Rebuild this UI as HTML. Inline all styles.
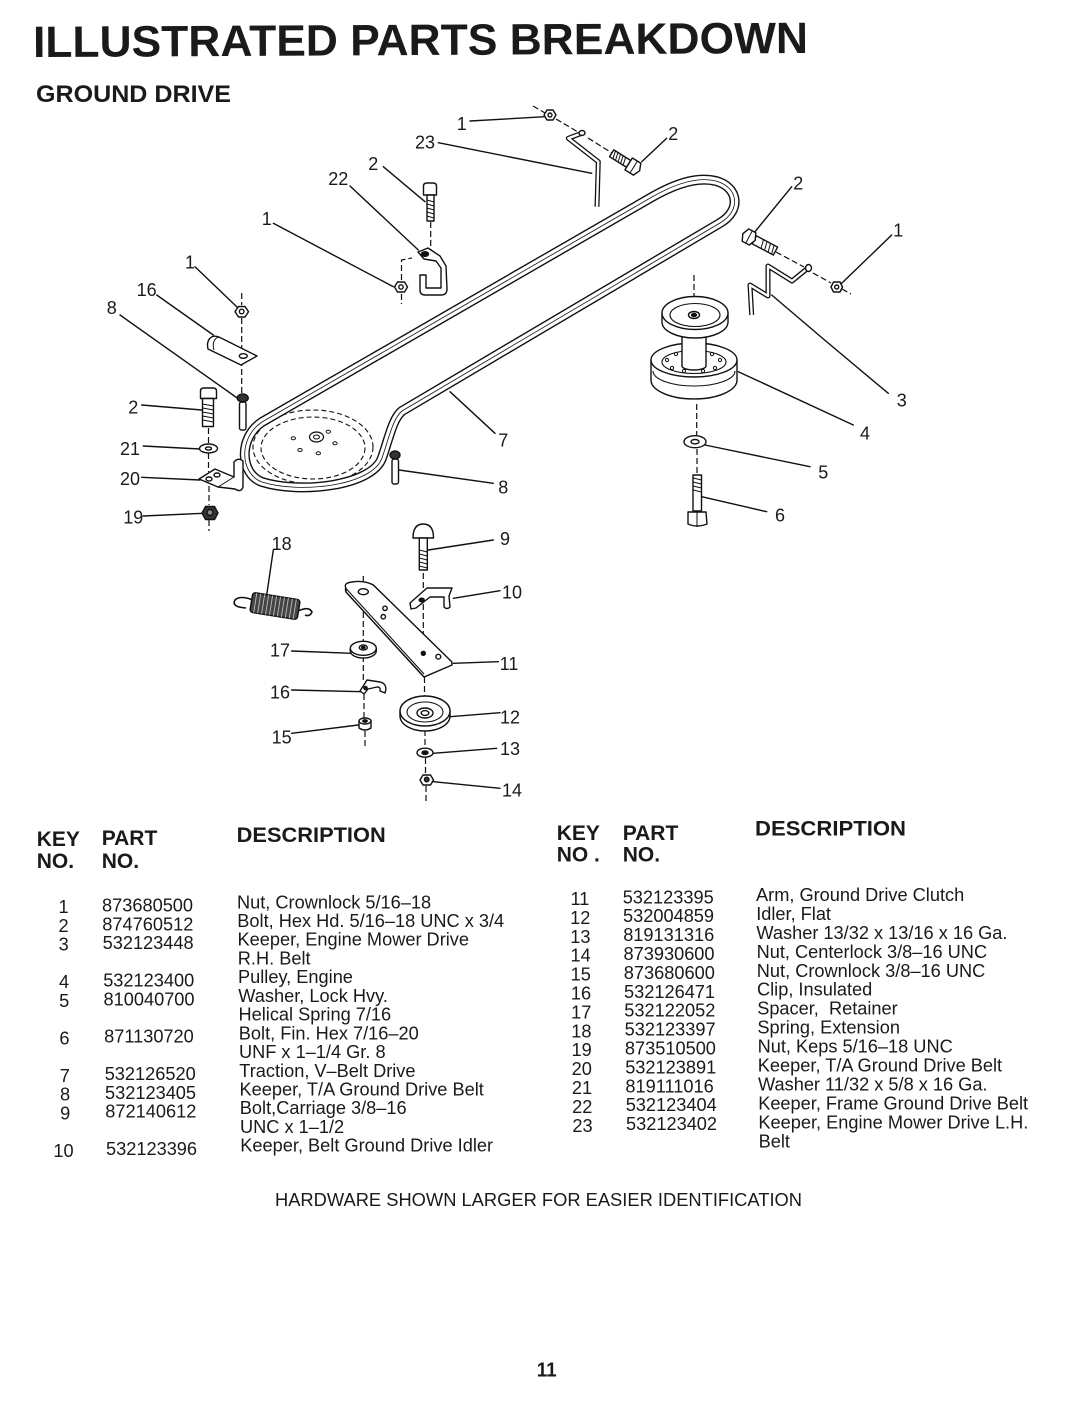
<!DOCTYPE html>
<html><head><meta charset="utf-8">
<style>
html,body{margin:0;padding:0;background:#fff;}
svg{display:block;}
text{font-family:"Liberation Sans",Arial,sans-serif;fill:#1a1a1a;}
.b{font-weight:bold;}
.lb{font-size:18px;text-anchor:middle;}
.t{font-size:18.2px;}
.k{font-size:18.2px;text-anchor:middle;}
.h{font-size:21px;font-weight:bold;}
</style></head><body>
<svg width="1080" height="1413" viewBox="0 0 1080 1413" xmlns="http://www.w3.org/2000/svg">
<rect width="1080" height="1413" fill="#fff"/>

<!-- Titles -->
<text x="33" y="55" class="b" font-size="44" textLength="775" lengthAdjust="spacingAndGlyphs" fill="#222" transform="rotate(-0.3 420 40)">ILLUSTRATED PARTS BREAKDOWN</text>
<text x="36" y="102" class="b" font-size="24" textLength="195" lengthAdjust="spacingAndGlyphs">GROUND DRIVE</text>

<!-- ============ DIAGRAM ============ -->
<!-- dashed assembly lines -->
<g fill="none" stroke="#111" stroke-width="1.2" stroke-dasharray="6,3">
  <line x1="533" y1="106" x2="545" y2="113"/>
  <line x1="556" y1="119" x2="578" y2="132"/>
  <line x1="588" y1="138" x2="612" y2="153"/>
  <line x1="430.7" y1="222" x2="430.7" y2="250"/>
  <polyline points="401.5,280 401.5,260 412,258"/>
  <line x1="401.5" y1="294" x2="401.5" y2="304"/>
  <line x1="241.7" y1="293" x2="241.7" y2="305"/>
  <line x1="241.7" y1="318" x2="241.7" y2="351"/>
  <line x1="241.7" y1="360" x2="241.7" y2="393"/>
  <line x1="208.5" y1="428" x2="208.5" y2="443"/>
  <line x1="208.5" y1="453" x2="208.5" y2="472"/>
  <line x1="209" y1="486" x2="209" y2="505"/>
  <line x1="209" y1="520" x2="209" y2="531"/>
  <line x1="776" y1="252" x2="804" y2="267"/>
  <line x1="813" y1="273" x2="831" y2="283"/>
  <line x1="842" y1="289" x2="851" y2="294"/>
  <line x1="694" y1="275" x2="694" y2="297"/>
  <line x1="696.7" y1="404" x2="696.7" y2="435"/>
  <line x1="697" y1="449" x2="697" y2="473"/>
  <line x1="423.3" y1="573" x2="423.3" y2="595"/>
  <line x1="423.3" y1="604" x2="423.3" y2="660"/>
  <line x1="424.5" y1="668" x2="424.5" y2="697"/>
  <line x1="425" y1="730" x2="425" y2="748"/>
  <line x1="425.5" y1="758" x2="425.5" y2="774"/>
  <line x1="426" y1="786" x2="426" y2="801"/>
  <line x1="363.3" y1="576" x2="363.3" y2="642"/>
  <line x1="363.3" y1="656" x2="363.3" y2="682"/>
  <line x1="364" y1="694" x2="364" y2="718"/>
  <line x1="365" y1="731" x2="365" y2="746"/>
</g>

<!-- leader lines -->
<g fill="none" stroke="#111" stroke-width="1.4" stroke-linecap="round">
  <line x1="470" y1="121" x2="545" y2="116.7"/>
  <line x1="438.3" y1="142.7" x2="591.7" y2="173.3"/>
  <line x1="666.7" y1="138.3" x2="641.7" y2="161.7"/>
  <line x1="383.3" y1="166.7" x2="425" y2="201.7"/>
  <line x1="350" y1="186" x2="418.3" y2="250"/>
  <line x1="273.3" y1="223.3" x2="393.3" y2="286.7"/>
  <line x1="791.7" y1="186.7" x2="755" y2="231.7"/>
  <line x1="891.7" y1="235" x2="841.7" y2="283.3"/>
  <path d="M888.3,393.3 Q830,345 771.7,295"/>
  <path d="M853.3,425 Q795,398 738.3,371.7"/>
  <line x1="810" y1="466.7" x2="705" y2="445"/>
  <line x1="766.7" y1="511.7" x2="701.7" y2="496.7"/>
  <line x1="195" y1="266.7" x2="238.3" y2="308.3"/>
  <line x1="156.7" y1="295" x2="213.3" y2="335"/>
  <line x1="120" y1="315" x2="240" y2="400"/>
  <line x1="141.7" y1="405" x2="201.7" y2="410"/>
  <line x1="143.3" y1="446" x2="200" y2="449"/>
  <line x1="141.7" y1="477.3" x2="200" y2="480"/>
  <line x1="143.3" y1="516" x2="203" y2="513.3"/>
  <line x1="495" y1="433.3" x2="450" y2="391.7"/>
  <line x1="493.3" y1="483.3" x2="399" y2="470"/>
  <line x1="273.3" y1="550" x2="266.7" y2="595"/>
  <line x1="493.3" y1="540" x2="428.3" y2="550"/>
  <line x1="500" y1="590.7" x2="453.3" y2="598.3"/>
  <line x1="498.3" y1="661.7" x2="453.3" y2="663.3"/>
  <line x1="291.7" y1="651" x2="351.7" y2="653.3"/>
  <line x1="291.7" y1="690" x2="362" y2="691.7"/>
  <line x1="291.7" y1="733.3" x2="358.3" y2="725"/>
  <line x1="500" y1="712.7" x2="450" y2="716.7"/>
  <line x1="496.7" y1="748.3" x2="433.3" y2="753.3"/>
  <line x1="500" y1="788.3" x2="433.3" y2="781.7"/>
</g>

<!-- Belt (7) with left pulley -->
<g fill="none" stroke="#111">
  <ellipse cx="313" cy="447" rx="60" ry="37" stroke-width="1.1" stroke-dasharray="5,3"/>
  <ellipse cx="313" cy="448" rx="52" ry="31" stroke-width="1.1" stroke-dasharray="5,3"/>
  <ellipse cx="316.5" cy="437" rx="7" ry="5" stroke-width="1.2"/>
  <ellipse cx="316.5" cy="437" rx="3" ry="2" stroke-width="1"/>
  <ellipse cx="293.3" cy="438.3" rx="2.2" ry="1.5" stroke-width="1"/>
  <ellipse cx="328.3" cy="431.7" rx="2.2" ry="1.5" stroke-width="1"/>
  <ellipse cx="335" cy="443.3" rx="2.2" ry="1.5" stroke-width="1"/>
  <ellipse cx="300" cy="450" rx="2.2" ry="1.5" stroke-width="1"/>
  <ellipse cx="318.3" cy="453.3" rx="2.2" ry="1.5" stroke-width="1"/>
  <path d="M262,422 L652,197 C680,181 700,177 716,181 C738,187 742,210 720,223 L402,411 C393,418 389,438 382,458 C372,486 300,494 262,482 C240,474 238,438 262,422 Z" stroke-width="10" stroke-linejoin="round"/>
  <path d="M262,422 L652,197 C680,181 700,177 716,181 C738,187 742,210 720,223 L402,411 C393,418 389,438 382,458 C372,486 300,494 262,482 C240,474 238,438 262,422 Z" stroke="#fff" stroke-width="7.2" stroke-linejoin="round"/>
  <path d="M262,422 L652,197 C680,181 700,177 716,181 C738,187 742,210 720,223 L402,411 C393,418 389,438 382,458 C372,486 300,494 262,482 C240,474 238,438 262,422 Z" stroke-width="0.8" stroke-linejoin="round"/>
</g>

<!-- parts drawn with outlines -->
<g fill="#fff" stroke="#111" stroke-width="1.4" stroke-linejoin="round">
  <!-- top nut 1 -->
  <polygon points="544,115 547,110 553,110 556,115 553,120 547,120"/>
  <circle cx="550" cy="115" r="2" fill="none"/>
  <!-- rod 23 -->
  <path d="M581.7,133.3 L568.3,138.3 L598.3,161.7 L597,206.7" fill="none" stroke-width="5"/>
  <path d="M581.7,133.3 L568.3,138.3 L598.3,161.7 L597,206.7" fill="none" stroke="#fff" stroke-width="2.4"/>
  <ellipse cx="582" cy="133" rx="3" ry="2.5"/>
  <!-- bolt 2 top right -->
  <g transform="translate(632,166) rotate(32)">
    <rect x="-24" y="-4" width="20" height="8"/>
    <path d="M-22,-4 l2,8 M-19,-4 l2,8 M-16,-4 l2,8 M-13,-4 l2,8 M-10,-4 l2,8" fill="none" stroke-width="1"/>
    <polygon points="-4,-7 6,-7 9,0 6,7 -4,7"/>
    <line x1="2" y1="-7" x2="2" y2="7" stroke-width="1"/>
  </g>
  <!-- vertical bolt 2 -->
  <path d="M423.5,195 L423.5,186 Q423.5,183 427,183 L433,183 Q436.5,183 436.5,186 L436.5,195 Z"/>
  <rect x="427" y="195" width="7" height="26"/>
  <path d="M427,200 l7,2 M427,204 l7,2 M427,208 l7,2 M427,212 l7,2 M427,216 l7,2" fill="none" stroke-width="1"/>
  <!-- keeper 22 -->
  <path d="M418,252 L428,248 L440,256 L446,266 L447,289 Q447,295 441,295 L425,295 Q420,295 420,290 L420,275 L426,275 L426,288 L441,288 L441,268 L436,261 L424,259 Z"/>
  <ellipse cx="425" cy="254" rx="3.5" ry="2.3" fill="#111"/>
  <!-- nut 1 (top-middle) -->
  <polygon points="394.5,287 397.5,282 404.5,282 407.5,287 404.5,292 397.5,292"/>
  <circle cx="401" cy="287" r="2.2" fill="none"/>
  <!-- left nut 1 -->
  <polygon points="235,311.7 238.5,306.5 245,306.5 248.5,311.7 245,317 238.5,317"/>
  <circle cx="241.7" cy="311.5" r="2.3" fill="none"/>
  <!-- clip 16 -->
  <path d="M219,337 C211,334 206,340 208,349 L241,365 L257,356 Z"/>
  <path d="M219,337 C214,338 212,344 214,350" fill="none" stroke-width="1"/>
  <ellipse cx="243.3" cy="356" rx="4" ry="2.3" fill="none"/>
  <!-- part 8 left -->
  <rect x="239.5" y="402" width="6.5" height="28" rx="2"/>
  <ellipse cx="242.7" cy="398" rx="5.5" ry="4" fill="#333"/>
  <!-- bolt 2 left -->
  <path d="M200.5,398.5 L200.5,391 Q200.5,388 204,388 L213,388 Q216.5,388 216.5,391 L216.5,398.5 Z"/>
  <rect x="202.5" y="398.5" width="11" height="28"/>
  <path d="M202.5,404 l11,2 M202.5,408 l11,2 M202.5,412 l11,2 M202.5,416 l11,2 M202.5,420 l11,2" fill="none" stroke-width="1.1"/>
  <!-- washer 21 -->
  <ellipse cx="208.5" cy="448.5" rx="9" ry="4.5"/>
  <ellipse cx="208.5" cy="448.5" rx="3" ry="1.6" fill="#fff"/>
  <!-- keeper 20 -->
  <path d="M234,477 L234,462 Q238,457 243,461 L243,487 Q241,493 235,489 L218,487 L199,479 L215,469 Z"/>
  <line x1="234" y1="477" x2="218" y2="487" stroke-width="1"/>
  <ellipse cx="209" cy="479" rx="3" ry="2" fill="none"/>
  <ellipse cx="217" cy="475" rx="3" ry="2" fill="none"/>
  <!-- nut 19 -->
  <polygon points="202,513 205.5,506.5 214.5,506.5 218,513 214.5,519.5 205.5,519.5" fill="#333"/>
  <circle cx="210" cy="512.5" r="3" fill="#888"/>
  <!-- part 8 right -->
  <rect x="392" y="459" width="6.5" height="25" rx="2"/>
  <ellipse cx="395" cy="455" rx="5" ry="4" fill="#333"/>
  <!-- bolt 2 right side -->
  <g transform="translate(749,237) rotate(28)">
    <rect x="6" y="-4.5" width="24" height="9"/>
    <path d="M14,-4.5 l2,9 M18,-4.5 l2,9 M22,-4.5 l2,9 M26,-4.5 l2,9" fill="none" stroke-width="1"/>
    <polygon points="-7,0 -4,-7 4,-7 7,0 4,7 -4,7"/>
    <line x1="0" y1="-7" x2="0" y2="7" stroke-width="1"/>
  </g>
  <!-- keeper 3 rod -->
  <path d="M808,268 L792,281 L768,266 L768,296 L750,285 L751.7,315" fill="none" stroke-width="5"/>
  <path d="M808,268 L792,281 L768,266 L768,296 L750,285 L751.7,315" fill="none" stroke="#fff" stroke-width="2.4"/>
  <ellipse cx="808.5" cy="268" rx="3" ry="3.5"/>
  <!-- nut 1 right -->
  <polygon points="831,287 833.5,282 840,282 842.5,287 840,292 833.5,292"/>
  <circle cx="836.7" cy="287" r="2" fill="none"/>
  <!-- pulley 4: lower pulley -->
  <path d="M651,360 L651,380 A43,19 0 0 0 737,380 L737,360 Z"/>
  <path d="M653,371 A41,15 0 0 0 735,371" fill="none" stroke-width="1.1"/>
  <ellipse cx="694" cy="360" rx="43" ry="17"/>
  <ellipse cx="694" cy="362" rx="32" ry="11.5" fill="none" stroke-width="1.1"/>
  <g fill="none" stroke-width="1">
    <circle cx="667" cy="360" r="1.6"/><circle cx="672" cy="368" r="1.6"/>
    <circle cx="684" cy="371" r="1.6"/><circle cx="703" cy="371" r="1.6"/>
    <circle cx="715" cy="368" r="1.6"/><circle cx="720" cy="360" r="1.6"/>
    <circle cx="712" cy="354" r="1.6"/><circle cx="676" cy="354" r="1.6"/>
  </g>
  <!-- shaft -->
  <path d="M682,333 L682,366 A12,4 0 0 0 706,366 L706,333 Z"/>
  <!-- top pulley -->
  <path d="M662,313 L662,322 A33,16 0 0 0 728,322 L728,313 Z"/>
  <ellipse cx="695" cy="313" rx="33" ry="16.5"/>
  <ellipse cx="695" cy="315" rx="25" ry="11.5" fill="none" stroke-width="1.1"/>
  <ellipse cx="694" cy="315" rx="5.5" ry="3.5"/>
  <ellipse cx="694" cy="315" rx="2.5" ry="1.5" fill="#111"/>
  <!-- washer 5 -->
  <ellipse cx="695" cy="441.7" rx="11" ry="6"/>
  <ellipse cx="695" cy="441.7" rx="4" ry="2.2" fill="#fff"/>
  <!-- bolt 6 -->
  <rect x="693" y="475" width="8.5" height="36"/>
  <path d="M693,478 l8.5,2 M693,482 l8.5,2 M693,486 l8.5,2 M693,490 l8.5,2" fill="none" stroke-width="1"/>
  <path d="M688,512 L706,512 L707,524 Q697,528 688,524 Z"/>
  <line x1="697" y1="512" x2="697" y2="527" stroke-width="1"/>
  <!-- spring 18 -->
  <path d="M253,600 Q240,595 235,600 Q231,607 246,608" fill="none" stroke-width="1.6"/>
  <path d="M298,611 Q309,606 312,612 Q310,617 305,615" fill="none" stroke-width="1.6"/>
  <g transform="translate(275,606) rotate(9)">
    <rect x="-24" y="-10" width="48" height="20" rx="3" fill="#444"/>
    <path d="M-20,-10 v20 M-16,-10 v20 M-12,-10 v20 M-8,-10 v20 M-4,-10 v20 M0,-10 v20 M4,-10 v20 M8,-10 v20 M12,-10 v20 M16,-10 v20 M20,-10 v20" stroke="#bbb" stroke-width="0.9" fill="none"/>
  </g>
  <!-- carriage bolt 9 -->
  <path d="M413,538 Q413,524 423.3,524 Q433.5,524 433.5,538 Z"/>
  <rect x="419.3" y="538" width="8" height="32"/>
  <path d="M419.3,550 l8,2 M419.3,554 l8,2 M419.3,558 l8,2 M419.3,562 l8,2 M419.3,566 l8,2" fill="none" stroke-width="1"/>
  <!-- keeper 10 -->
  <path d="M410,603 L427,588 L452,588 L449,596 L450,607 Q447,610 444,607 L444,597 L430,597 L416,608 L411,609 Z"/>
  <ellipse cx="421.7" cy="600" rx="2.5" ry="1.8" fill="#111"/>
  <!-- arm 11 -->
  <path d="M346,592 L424,677 L451.5,665 L373.3,585 Q360,582 350,584 Q344,587 346,592 Z" fill="#fff"/>
  <path d="M346,588.3 Q343,583 352,582 Q364,580 373.3,585 L451.7,661.7 L452,665 L424,677 L346,592 Z"/>
  <line x1="346" y1="588.5" x2="424" y2="674" stroke-width="1.1"/>
  <ellipse cx="363.3" cy="591.7" rx="5" ry="3"/>
  <circle cx="385" cy="608.3" r="2.2"/>
  <circle cx="383.3" cy="616.7" r="2.2"/>
  <circle cx="423.3" cy="653.3" r="2" fill="#111"/>
  <circle cx="438.3" cy="656.7" r="2.4"/>
  <!-- spacer 17 -->
  <path d="M350.3,648.3 L350.3,651 A13,7 0 0 0 376.3,651 L376.3,648.3"/>
  <ellipse cx="363.3" cy="648.3" rx="13" ry="7"/>
  <ellipse cx="363.3" cy="647.5" rx="4" ry="2.6"/>
  <ellipse cx="363.3" cy="647.5" rx="1.8" ry="1.2" fill="#111"/>
  <!-- clip 16 lower -->
  <path d="M360,691 L367,680 L380,682 Q388,684 385,693 L380,691 Q381,687 377,687 L368,689 L364,694 Z"/>
  <circle cx="365.5" cy="688" r="1.6" fill="#111"/>
  <!-- nut 15 -->
  <path d="M359,721 L359,728 Q365,732 371,728 L371,721 Z"/>
  <ellipse cx="365" cy="721" rx="6" ry="3"/>
  <ellipse cx="365" cy="721" rx="2.2" ry="1.2" fill="#111"/>
  <!-- idler 12 -->
  <path d="M400,711 L400,716 A25,15 0 0 0 450,716 L450,711"/>
  <ellipse cx="425" cy="711" rx="25" ry="15"/>
  <ellipse cx="425" cy="712" rx="18" ry="10" fill="none" stroke-width="1.1"/>
  <ellipse cx="425" cy="713" rx="8" ry="5"/>
  <ellipse cx="425" cy="713" rx="3.8" ry="2.4"/>
  <!-- washer 13 -->
  <ellipse cx="425" cy="752.7" rx="8" ry="4.5"/>
  <ellipse cx="425" cy="752.7" rx="3" ry="1.7" fill="#111"/>
  <!-- nut 14 -->
  <polygon points="420,780 423,775 430.5,775 433.5,780 430.5,785 423,785"/>
  <circle cx="426.7" cy="779.5" r="2.3" fill="#333"/>
</g>

<!-- diagram labels -->
<g class="lb">
  <text x="461.7" y="130" class="lb">1</text>
  <text x="425" y="148.3" class="lb">23</text>
  <text x="673.3" y="140" class="lb">2</text>
  <text x="373.3" y="170" class="lb">2</text>
  <text x="338.3" y="185" class="lb">22</text>
  <text x="266.7" y="225" class="lb">1</text>
  <text x="798.3" y="189.3" class="lb">2</text>
  <text x="898.3" y="236.6" class="lb">1</text>
  <text x="901.7" y="406.6" class="lb">3</text>
  <text x="865" y="439.6" class="lb">4</text>
  <text x="823.3" y="478.3" class="lb">5</text>
  <text x="780" y="521.6" class="lb">6</text>
  <text x="190" y="268.3" class="lb">1</text>
  <text x="146.7" y="296" class="lb">16</text>
  <text x="111.7" y="314" class="lb">8</text>
  <text x="133.3" y="413.3" class="lb">2</text>
  <text x="130" y="455" class="lb">21</text>
  <text x="130" y="485" class="lb">20</text>
  <text x="133.3" y="523.3" class="lb">19</text>
  <text x="503.3" y="446.6" class="lb">7</text>
  <text x="503.3" y="493.3" class="lb">8</text>
  <text x="281.7" y="550" class="lb">18</text>
  <text x="505" y="545" class="lb">9</text>
  <text x="512" y="598.3" class="lb">10</text>
  <text x="509" y="670" class="lb">11</text>
  <text x="280" y="656.6" class="lb">17</text>
  <text x="280" y="698.3" class="lb">16</text>
  <text x="281.7" y="743.3" class="lb">15</text>
  <text x="510" y="723.3" class="lb">12</text>
  <text x="510" y="755" class="lb">13</text>
  <text x="512" y="796.6" class="lb">14</text>
</g>

<!-- ============ TABLE LEFT ============ -->
<text x="36.7" y="846" class="h">KEY</text>
<text x="36.7" y="868" class="h">NO.</text>
<text x="101.7" y="845" class="h">PART</text>
<text x="101.7" y="868" class="h">NO.</text>
<text x="236.7" y="842" class="h" textLength="149" lengthAdjust="spacingAndGlyphs">DESCRIPTION</text>

<text x="63.5" y="913" class="k">1</text>
<text x="63.6" y="931.8" class="k">2</text>
<text x="63.7" y="950.5" class="k">3</text>
<text x="64" y="988" class="k">4</text>
<text x="64.2" y="1006.8" class="k">5</text>
<text x="64.4" y="1044.3" class="k">6</text>
<text x="64.8" y="1081.8" class="k">7</text>
<text x="65" y="1100.5" class="k">8</text>
<text x="65.2" y="1119.3" class="k">9</text>
<text x="63.5" y="1156.8" class="k">10</text>

<text x="102" y="911.7" class="t">873680500</text>
<text x="102.3" y="930.4" class="t">874760512</text>
<text x="102.6" y="949.1" class="t">532123448</text>
<text x="103.2" y="986.6" class="t">532123400</text>
<text x="103.5" y="1005.3" class="t">810040700</text>
<text x="104.1" y="1042.7" class="t">871130720</text>
<text x="104.7" y="1080.2" class="t">532126520</text>
<text x="105" y="1098.9" class="t">532123405</text>
<text x="105.3" y="1117.6" class="t">872140612</text>
<text x="106" y="1155.1" class="t">532123396</text>

<text x="237" y="908.3" class="t">Nut, Crownlock 5/16–18</text>
<text x="237.3" y="927" class="t">Bolt, Hex Hd. 5/16–18 UNC x 3/4</text>
<text x="237.5" y="945.7" class="t">Keeper, Engine Mower Drive</text>
<text x="237.8" y="964.5" class="t">R.H. Belt</text>
<text x="238" y="983.2" class="t">Pulley, Engine</text>
<text x="238.3" y="1001.9" class="t">Washer, Lock Hvy.</text>
<text x="238.5" y="1020.6" class="t">Helical Spring 7/16</text>
<text x="238.8" y="1039.3" class="t">Bolt, Fin. Hex 7/16–20</text>
<text x="239" y="1058.1" class="t">UNF x 1–1/4 Gr. 8</text>
<text x="239.3" y="1076.8" class="t">Traction, V–Belt Drive</text>
<text x="239.5" y="1095.5" class="t">Keeper, T/A Ground Drive Belt</text>
<text x="239.8" y="1114.2" class="t">Bolt,Carriage 3/8–16</text>
<text x="240" y="1132.9" class="t">UNC x 1–1/2</text>
<text x="240.3" y="1151.7" class="t">Keeper, Belt Ground Drive Idler</text>

<!-- ============ TABLE RIGHT ============ -->
<text x="556.7" y="840" class="h">KEY</text>
<text x="556.7" y="861.7" class="h">NO .</text>
<text x="622.7" y="840" class="h">PART</text>
<text x="622.7" y="861.7" class="h">NO.</text>
<text x="755" y="835.7" class="h" textLength="151" lengthAdjust="spacingAndGlyphs">DESCRIPTION</text>

<text x="580" y="905" class="k">11</text>
<text x="580.2" y="923.9" class="k">12</text>
<text x="580.4" y="942.8" class="k">13</text>
<text x="580.6" y="961.7" class="k">14</text>
<text x="580.8" y="980.6" class="k">15</text>
<text x="581" y="999.5" class="k">16</text>
<text x="581.2" y="1018.4" class="k">17</text>
<text x="581.4" y="1037.3" class="k">18</text>
<text x="581.6" y="1056.2" class="k">19</text>
<text x="581.8" y="1075.1" class="k">20</text>
<text x="582" y="1094" class="k">21</text>
<text x="582.2" y="1112.9" class="k">22</text>
<text x="582.5" y="1131.8" class="k">23</text>

<text x="622.7" y="903.3" class="t">532123395</text>
<text x="623" y="922.2" class="t">532004859</text>
<text x="623.2" y="941.1" class="t">819131316</text>
<text x="623.5" y="960" class="t">873930600</text>
<text x="623.8" y="978.9" class="t">873680600</text>
<text x="624" y="997.8" class="t">532126471</text>
<text x="624.3" y="1016.7" class="t">532122052</text>
<text x="624.6" y="1035.6" class="t">532123397</text>
<text x="624.9" y="1054.5" class="t">873510500</text>
<text x="625.2" y="1073.4" class="t">532123891</text>
<text x="625.4" y="1092.3" class="t">819111016</text>
<text x="625.7" y="1111.2" class="t">532123404</text>
<text x="626" y="1130.1" class="t">532123402</text>

<text x="756" y="901" class="t">Arm, Ground Drive Clutch</text>
<text x="756.2" y="919.9" class="t">Idler, Flat</text>
<text x="756.4" y="938.9" class="t">Washer 13/32 x 13/16 x 16 Ga.</text>
<text x="756.6" y="957.8" class="t">Nut, Centerlock 3/8–16 UNC</text>
<text x="756.8" y="976.8" class="t">Nut, Crownlock 3/8–16 UNC</text>
<text x="757" y="995.7" class="t">Clip, Insulated</text>
<text x="757.2" y="1014.6" class="t">Spacer,&#160; Retainer</text>
<text x="757.4" y="1033.6" class="t">Spring, Extension</text>
<text x="757.6" y="1052.5" class="t">Nut, Keps 5/16–18 UNC</text>
<text x="757.8" y="1071.5" class="t">Keeper, T/A Ground Drive Belt</text>
<text x="758" y="1090.4" class="t">Washer 11/32 x 5/8 x 16 Ga.</text>
<text x="758.2" y="1109.3" class="t">Keeper, Frame Ground Drive Belt</text>
<text x="758.4" y="1128.3" class="t">Keeper, Engine Mower Drive L.H.</text>
<text x="758.6" y="1147.5" class="t">Belt</text>

<!-- footer -->
<text x="275" y="1206" class="t" textLength="527" lengthAdjust="spacingAndGlyphs">HARDWARE SHOWN LARGER FOR EASIER IDENTIFICATION</text>
<text x="546.7" y="1376.5" font-size="20" class="b" text-anchor="middle" textLength="20" lengthAdjust="spacingAndGlyphs">11</text>
</svg>
</body></html>
